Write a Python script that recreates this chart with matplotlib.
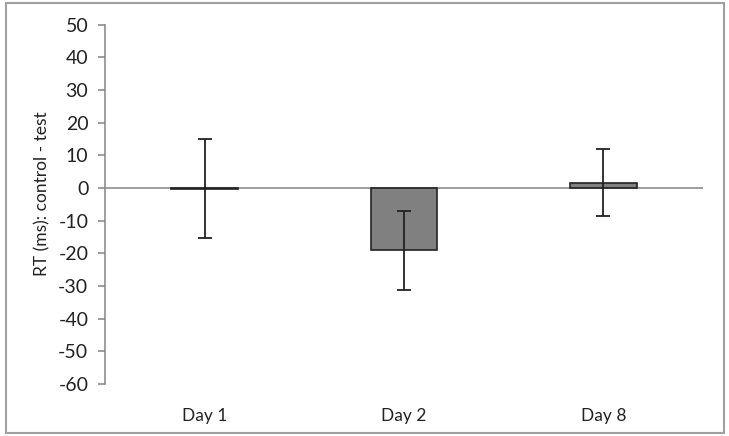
import matplotlib
matplotlib.use("Agg")
import matplotlib.pyplot as plt
from matplotlib.patches import Rectangle

# Datos del gráfico
dias = ["Day 1", "Day 2", "Day 8"]
diferencia = [-0.2, -19.1, 1.6]
error = [15.1, 12.1, 10.2]
yticks = list(range(-60, 51, 10))

plt.rcParams['font.family'] = ['Lato', 'DejaVu Sans']

fig = plt.figure(figsize=(7.29, 4.36), dpi=100)
ax = fig.add_axes([105 / 729, 1 - 384 / 436, 598 / 729, (384 - 24.5) / 436])

# borde gris alrededor de la figura
fig.patches.append(Rectangle((6 / 729, 3 / 436), 718 / 729, 430 / 436,
                             transform=fig.transFigure, fill=False,
                             edgecolor="#a0a0a0", linewidth=1.5))

x = range(len(dias))
ax.bar(x, diferencia, width=0.335, color="#808080", edgecolor="#222222",
       linewidth=1.2, zorder=2)
ax.errorbar(x, diferencia, yerr=error, fmt="none", ecolor="#222222",
            elinewidth=1.3, capsize=5, capthick=1.3, zorder=3)
ax.axhline(0, color="#8c8c8c", linewidth=1.2, zorder=1)

ax.set_xlim(-0.5, 2.5)
ax.set_ylim(-60, 50)
ax.set_yticks(yticks)
ax.set_yticklabels([str(t) for t in yticks], fontsize=14, color="#222222")
ax.set_xticks(list(x))
ax.set_xticklabels(dias, fontsize=12.5, color="#222222")
ax.tick_params(axis="x", length=0, pad=17)
ax.tick_params(axis="y", length=5, width=1.2, color="#8c8c8c", pad=7)

for lado in ["top", "right", "bottom"]:
    ax.spines[lado].set_visible(False)
ax.spines["left"].set_color("#8c8c8c")
ax.spines["left"].set_linewidth(1.2)

fig.text(42 / 729, 1 - 194 / 436, "RT (ms): control - test", rotation=90,
         ha="center", va="center", fontsize=12.5, color="#222222")

fig.savefig("out.png", dpi=100)
